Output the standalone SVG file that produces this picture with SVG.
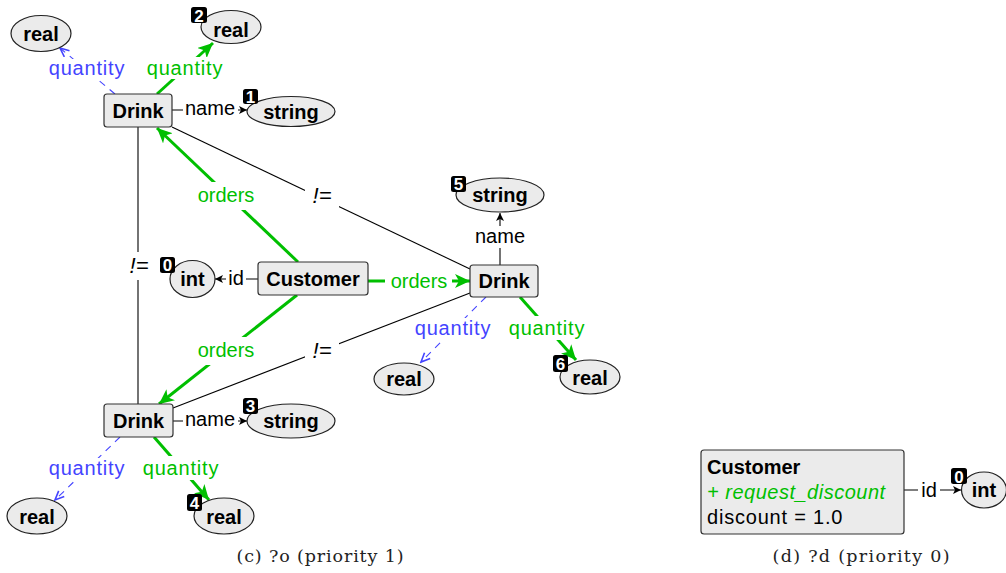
<svg xmlns="http://www.w3.org/2000/svg" width="1006" height="573" viewBox="0 0 1006 573">
<style>
.box{fill:#ebebeb;stroke:#333;stroke-width:1.2}
.ell{fill:#ebebeb;stroke:#222;stroke-width:1.2}
.nl{font-family:"Liberation Sans",Arial,sans-serif;font-weight:bold;font-size:20px;fill:#000;text-anchor:middle}
.el{font-family:"Liberation Sans",Arial,sans-serif;font-size:20px;text-anchor:middle}
.q{letter-spacing:0.8px}
.ne{font-family:"Liberation Sans",Arial,sans-serif;font-style:italic;font-size:22px;text-anchor:middle;fill:#000}
.bk{fill:#000}
.bt{font-family:"Liberation Sans",Arial,sans-serif;font-weight:bold;font-size:17px;fill:#fff;text-anchor:middle}
.g{stroke:#00bf00;stroke-width:3;fill:none}
.b{stroke:#4444ff;stroke-width:1.1;stroke-dasharray:7,6;fill:none}
.k{stroke:#000;stroke-width:1.1;fill:none}
.gt{fill:#00bf00}
.btx{fill:#4444ff}
.kt{fill:#000}
.bg{fill:#fff}
.cap{font-family:"DejaVu Serif","Liberation Serif",serif;font-size:17.5px;text-anchor:middle;fill:#222}
</style>
<defs>
<marker id="ag" markerUnits="userSpaceOnUse" markerWidth="16" markerHeight="14" refX="15" refY="7" orient="auto">
<path d="M0,0 L15,7 L0,14 L4,7 z" fill="#00bf00"/>
</marker>
<marker id="ab" markerUnits="userSpaceOnUse" markerWidth="12" markerHeight="12" refX="10" refY="5" orient="auto">
<path d="M1,1 L10,5 L1,9" fill="none" stroke="#4444ff" stroke-width="1.6"/>
</marker>
<marker id="ak" markerUnits="userSpaceOnUse" markerWidth="10" markerHeight="10" refX="8" refY="4" orient="auto">
<path d="M0,0 L8,4 L0,8 L2,4 z" fill="#000"/>
</marker>
</defs>

<g id="connectors">
<path class="b" d="M115,94 L60,48" marker-end="url(#ab)"/>
<rect class="bg" x="47" y="59" width="81" height="20"/>
<text class="el q btx" x="87" y="75">quantity</text>
<path class="g" d="M157,94 L213,43" marker-end="url(#ag)"/>
<rect class="bg" x="145" y="57" width="81" height="22"/>
<text class="el q gt" x="185" y="75">quantity</text>
<path class="k" d="M172,110 L247,110" marker-end="url(#ak)"/>
<rect class="bg" x="183" y="98" width="55" height="22"/>
<text class="el kt" x="210" y="115">name</text>
<path class="g" d="M298,262 L157,128" marker-end="url(#ag)"/>
<rect class="bg" x="195" y="182" width="62" height="28"/>
<text class="el gt" x="226" y="202">orders</text>
<path class="g" d="M297,295 L159,404" marker-end="url(#ag)"/>
<rect class="bg" x="195" y="337" width="62" height="28"/>
<text class="el gt" x="226" y="357">orders</text>
<path class="g" d="M368,281 L470,281" marker-end="url(#ag)"/>
<rect class="bg" x="385" y="270" width="67" height="24"/>
<text class="el gt" x="419" y="288">orders</text>
<path class="k" d="M258,279 L215,279" marker-end="url(#ak)"/>
<rect class="bg" x="226" y="268" width="20" height="22"/>
<text class="el kt" x="236" y="285">id</text>
<path class="k" d="M172,127 L470,269"/>
<rect class="bg" x="305" y="182" width="34" height="28"/>
<text class="ne" x="322" y="203">!=</text>
<path class="k" d="M173,408 L470,293"/>
<rect class="bg" x="305" y="337" width="34" height="28"/>
<text class="ne" x="322" y="358">!=</text>
<path class="k" d="M138,127 L138,404"/>
<rect class="bg" x="124" y="252" width="30" height="28"/>
<text class="ne" x="139" y="273">!=</text>
<path class="k" d="M500,265 L500,213" marker-end="url(#ak)"/>
<rect class="bg" x="472" y="226" width="56" height="22"/>
<text class="el kt" x="500" y="243">name</text>
<path class="b" d="M486,297 L421,362" marker-end="url(#ab)"/>
<rect class="bg" x="412" y="318" width="82" height="22"/>
<text class="el q btx" x="453" y="335">quantity</text>
<path class="g" d="M520,297 L576,360" marker-end="url(#ag)"/>
<rect class="bg" x="506" y="316" width="82" height="24"/>
<text class="el q gt" x="547" y="335">quantity</text>
<path class="b" d="M120,437 L55,500" marker-end="url(#ab)"/>
<rect class="bg" x="46" y="458" width="82" height="22"/>
<text class="el q btx" x="87" y="475">quantity</text>
<path class="g" d="M154,437 L209,500" marker-end="url(#ag)"/>
<rect class="bg" x="140" y="456" width="82" height="24"/>
<text class="el q gt" x="181" y="475">quantity</text>
<path class="k" d="M173,421 L247,421" marker-end="url(#ak)"/>
<rect class="bg" x="183" y="409" width="55" height="22"/>
<text class="el kt" x="210" y="426">name</text>
<path class="k" d="M904,490 L961,490" marker-end="url(#ak)"/>
<rect class="bg" x="918" y="479" width="22" height="22"/>
<text class="el kt" x="929" y="497">id</text>
</g>

<g id="drink-top">
<rect class="box" x="104" y="94" width="68" height="33" rx="3"/>
<text class="nl" x="138" y="118">Drink</text>
</g>
<g id="real-tl">
<ellipse class="ell" cx="41" cy="33.5" rx="30" ry="18"/>
<text class="nl" x="41" y="41">real</text>
</g>
<g id="real-2">
<ellipse class="ell" cx="231" cy="27" rx="30" ry="16.5"/>
<text class="nl" x="231" y="37">real</text>
<rect class="bk" x="191" y="7" width="16" height="16" rx="2.5"/>
<text class="bt" x="199" y="21.5">2</text>
</g>
<g id="string-1">
<ellipse class="ell" cx="291" cy="111.5" rx="44" ry="15"/>
<text class="nl" x="291" y="118.5">string</text>
<rect class="bk" x="243" y="89" width="15" height="15" rx="2.5"/>
<text class="bt" x="250.5" y="102.5">1</text>
</g>
<g id="customer">
<rect class="box" x="258" y="262" width="110" height="33" rx="3"/>
<text class="nl" x="313" y="286">Customer</text>
</g>
<g id="int-0">
<ellipse class="ell" cx="192.5" cy="279" rx="22.5" ry="18.5"/>
<text class="nl" x="192.5" y="286">int</text>
<rect class="bk" x="160" y="257" width="15" height="16" rx="2.5"/>
<text class="bt" x="167.5" y="271">0</text>
</g>
<g id="drink-right">
<rect class="box" x="470" y="265" width="68" height="32" rx="3"/>
<text class="nl" x="504" y="288">Drink</text>
</g>
<g id="string-5">
<ellipse class="ell" cx="500" cy="195" rx="44" ry="17"/>
<text class="nl" x="500" y="202">string</text>
<rect class="bk" x="451" y="176" width="15" height="16" rx="2.5"/>
<text class="bt" x="458.5" y="190">5</text>
</g>
<g id="real-r">
<ellipse class="ell" cx="404" cy="379" rx="30" ry="16"/>
<text class="nl" x="404" y="386">real</text>
</g>
<g id="real-6">
<ellipse class="ell" cx="590" cy="377" rx="30" ry="17"/>
<text class="nl" x="590" y="385">real</text>
<rect class="bk" x="553" y="355" width="15" height="17" rx="2.5"/>
<text class="bt" x="560.5" y="369.5">6</text>
</g>
<g id="drink-bottom">
<rect class="box" x="104" y="404" width="69" height="33" rx="3"/>
<text class="nl" x="138.5" y="428">Drink</text>
</g>
<g id="string-3">
<ellipse class="ell" cx="291" cy="421" rx="44" ry="17"/>
<text class="nl" x="291" y="428">string</text>
<rect class="bk" x="243" y="398" width="15" height="16" rx="2.5"/>
<text class="bt" x="250.5" y="412">3</text>
</g>
<g id="real-bl">
<ellipse class="ell" cx="37" cy="516" rx="30" ry="18"/>
<text class="nl" x="37" y="524">real</text>
</g>
<g id="real-4">
<ellipse class="ell" cx="224" cy="516" rx="30" ry="18"/>
<text class="nl" x="224" y="524">real</text>
<rect class="bk" x="187" y="494" width="15" height="17" rx="2.5"/>
<text class="bt" x="194.5" y="508.5">4</text>
</g>

<g id="customer-d">
<rect class="box" x="701" y="450" width="203" height="84" rx="3"/>
<text x="707" y="474" style="font-family:'Liberation Sans',Arial,sans-serif;font-weight:bold;font-size:20px;fill:#000">Customer</text>
<text x="707" y="499" style="font-family:'Liberation Sans',Arial,sans-serif;font-style:italic;font-size:20px;fill:#00bf00;letter-spacing:0.5px">+ request_discount</text>
<text x="707" y="524" style="font-family:'Liberation Sans',Arial,sans-serif;font-size:20px;fill:#000;letter-spacing:0.8px">discount = 1.0</text>
</g>
<g id="int-d">
<ellipse class="ell" cx="984" cy="490" rx="22.5" ry="18"/>
<text class="nl" x="984" y="497">int</text>
<rect class="bk" x="951" y="468" width="16" height="16" rx="2.5"/>
<text class="bt" x="959" y="482.5">0</text>
</g>

<text class="cap" x="320" y="562" textLength="167" lengthAdjust="spacing">(c) ?o (priority 1)</text>
<text class="cap" x="861" y="562" textLength="177" lengthAdjust="spacing">(d) ?d (priority 0)</text>
</svg>
